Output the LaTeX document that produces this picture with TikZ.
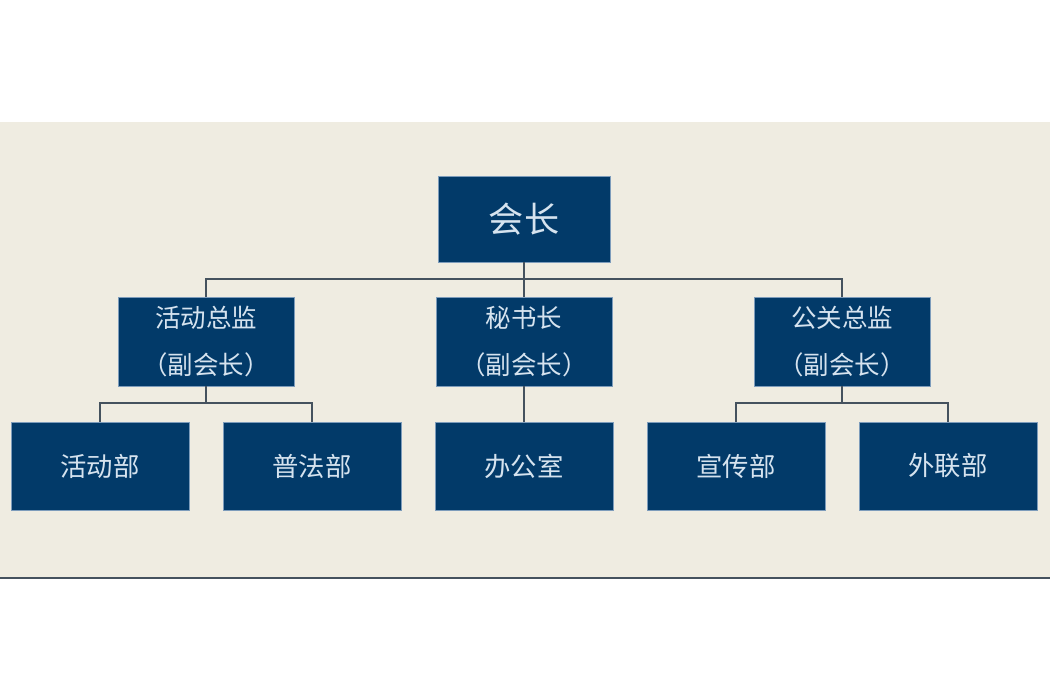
\documentclass[tikz,border=0pt]{standalone}
\usepackage{fontspec}
\newfontfamily\cjk{Noto Sans CJK SC}
\usetikzlibrary{positioning}
\definecolor{boxblue}{HTML}{023A69}
\definecolor{boxedge}{HTML}{7D9CBB}
\definecolor{boxtext}{HTML}{D6E3EF}
\definecolor{bandbg}{HTML}{EFECE1}
\definecolor{linegray}{HTML}{45525E}
\tikzset{
        orgnode/.style={align=center,inner sep=0pt,font=\cjk},
        % Head of the society
        node_head/.style={orgnode, rectangle, fill=boxblue, draw=boxedge, line width=0.3pt, text=boxtext, minimum width=3.44cm, minimum height=1.72cm, font=\cjk\fontsize{20}{22}\selectfont},
        % Vice heads
        node_vice/.style={orgnode, rectangle, fill=boxblue, draw=boxedge, line width=0.3pt, text=boxtext, minimum width=3.52cm, minimum height=1.78cm, font=\cjk\fontsize{14.5}{27}\selectfont},
        % Departments
        node_dept/.style={orgnode, rectangle, fill=boxblue, draw=boxedge, line width=0.3pt, text=boxtext, minimum width=3.56cm, minimum height=1.76cm, font=\cjk\fontsize{15}{17}\selectfont}
}

\begin{document}
\begin{tikzpicture}[
            line width=1.1pt, draw=linegray,
            edge from parent/.style={draw=linegray, line width=1.1pt},
            edge from parent path={(\tikzparentnode.south) -- ++(0,-0.33) -| (\tikzchildnode.north)},
            level 1/.style={sibling distance=6.36cm, level distance=2.45cm},
            level 2/.style={sibling distance=4.24cm, level distance=2.49cm}
        ]
            \useasboundingbox (0,0) rectangle (21,-14);
            % background band
            \fill[bandbg] (0,-2.44) rectangle (21,-11.56);
            \draw[linegray, line width=0.6pt] (0,-11.56) -- (21,-11.56);
            \node[node_head] (head) at (10.48,-4.38) {会长}
                child { node[node_vice] (events) {活动总监\\（副会长）}
                    child { node[node_dept] (activity) {活动部} }
                    child { node[node_dept] (law) {普法部} }
                }
                child { node[node_vice] (secretary) {秘书长\\（副会长）}
                    child { node[node_dept] (office) {办公室} }
                }
                child { node[node_vice] (relations) {公关总监\\（副会长）}
                    child { node[node_dept] (publicity) {宣传部} }
                    child { node[node_dept] (liaison) {外联部} }
                }
            ;
        \end{tikzpicture}
\end{document}
